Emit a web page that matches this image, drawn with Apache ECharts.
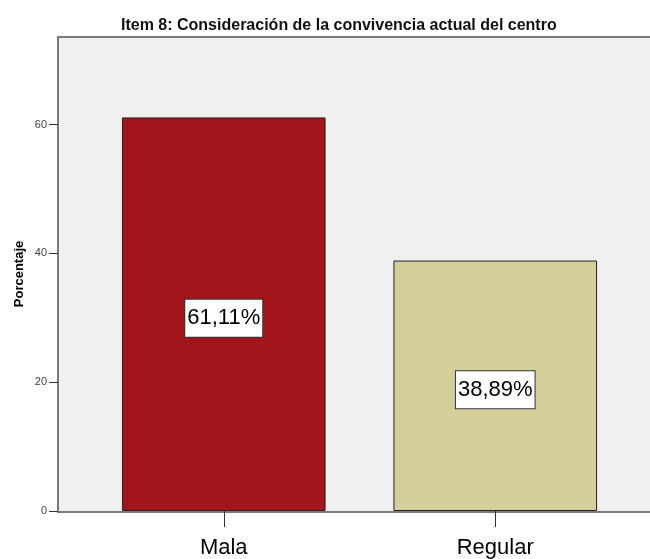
<!DOCTYPE html>
<html>
<head>
<meta charset="utf-8">
<script src="https://cdn.jsdelivr.net/npm/echarts@6/dist/echarts.min.js"></script>
<style>
  html, body { margin: 0; padding: 0; background: #fff; }
  #main { width: 650px; height: 559px; }
</style>
</head>
<body>
<div id="main"></div>
<script>
// datos del gráfico
var categorias = ['Mala', 'Regular'];
var porcentajes = [61.11, 38.89];
var colores = ['#a0161b', '#d4cf9b'];
var marcasY = [0, 20, 40, 60];

var myChart = echarts.init(document.getElementById('main'));
var fuente = '"Liberation Sans Narrow", "Liberation Sans", Arial, sans-serif';

var option = {
  animation: false,
  backgroundColor: '#ffffff',
  title: {
    text: 'Item 8: Consideración de la convivencia actual del centro',
    left: 116,
    top: 13,
    textStyle: { fontFamily: fuente, fontSize: 16, fontWeight: 'bold', color: '#111' }
  },
  // fondo del área de trazado (más ancho que la rejilla, como en SPSS)
  graphic: [{
    type: 'rect',
    z: -10,
    shape: { x: 58, y: 37, width: 620, height: 475 },
    style: { fill: '#f0f0f0', stroke: '#7a7a7a', lineWidth: 2 }
  }],
  grid: { left: 88, right: 19, top: 37, bottom: 47 },
  xAxis: {
    type: 'category',
    data: categorias,
    axisLine: { show: false },
    axisTick: { show: true, alignWithLabel: true, length: 16, lineStyle: { color: '#333' } },
    axisLabel: { margin: 26, fontFamily: fuente, fontSize: 22, color: '#000' }
  },
  yAxis: {
    type: 'value',
    min: 0,
    max: 73.6,
    interval: 20,
    offset: 30,
    name: 'Porcentaje',
    nameLocation: 'middle',
    nameGap: 32,
    nameMoveOverlap: false,
    nameTextStyle: { fontFamily: 'Liberation Sans, Arial', fontWeight: 'bold', fontSize: 13, color: '#000' },
    splitLine: { show: false },
    axisLine: { show: true, lineStyle: { color: '#7a7a7a', width: 2 } },
    axisTick: { show: true, length: 9, customValues: marcasY, lineStyle: { color: '#333' } },
    axisLabel: { customValues: marcasY, margin: 11, fontFamily: fuente, fontSize: 11, color: '#444' }
  },
  series: [{
    type: 'bar',
    data: porcentajes.map(function (v, i) {
      return { value: v, itemStyle: { color: colores[i] } };
    }),
    barWidth: '75%',
    itemStyle: { borderColor: '#222', borderWidth: 1 },
    label: {
      show: true,
      position: 'inside',
      offset: [0, 4],
      formatter: function (p) { return p.value.toFixed(2).replace('.', ',') + '%'; },
      fontFamily: 'Liberation Sans, Arial',
      fontSize: 22,
      color: '#000',
      backgroundColor: '#fff',
      borderColor: '#333',
      borderWidth: 1,
      padding: [9, 2, 6, 2]
    }
  }]
};

myChart.setOption(option);
</script>
</body>
</html>
